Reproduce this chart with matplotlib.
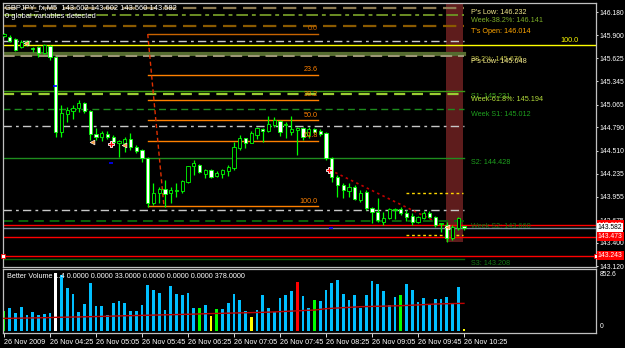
import matplotlib
matplotlib.use('Agg')
import matplotlib.pyplot as plt
import matplotlib.transforms as mtransforms
import numpy as np

plt.rcParams['font.family'] = ['Liberation Sans', 'DejaVu Sans']

# GBPJPY M5, 26 Nov 2009 03:45 .. 10:25 (81 bars)
opens = [145.892, 145.880, 145.856, 145.760, 145.796, 145.748, 145.760, 145.687, 145.772, 145.639,
         144.736, 144.953, 144.989, 145.025, 145.085, 144.989, 144.712, 144.675, 144.712, 144.675,
         144.603, 144.603, 144.651, 144.555, 144.519, 144.422, 143.880, 144.001, 144.049, 144.001,
         144.025, 144.025, 144.133, 144.326, 144.338, 144.230, 144.278, 144.206, 144.230, 144.266,
         144.302, 144.543, 144.663, 144.603, 144.700, 144.772, 144.748, 144.820, 144.868, 144.820,
         144.736, 144.760, 144.784, 144.700, 144.772, 144.748, 144.724, 144.422, 144.194, 144.097,
         144.025, 144.073, 143.916, 144.013, 143.820, 143.772, 143.651, 143.700, 143.796, 143.808,
         143.760, 143.724, 143.651, 143.700, 143.760, 143.712, 143.627, 143.615, 143.459, 143.579,
         143.602]
highs = [145.928, 145.904, 145.868, 145.844, 145.844, 145.760, 145.772, 145.796, 145.784, 145.639,
         145.061, 145.037, 145.061, 145.121, 145.097, 145.001, 144.784, 144.748, 144.748, 144.700,
         144.639, 144.675, 144.724, 144.579, 144.531, 144.435, 144.121, 144.073, 144.157, 144.073,
         144.121, 144.157, 144.326, 144.398, 144.350, 144.290, 144.290, 144.266, 144.290, 144.338,
         144.615, 144.700, 144.663, 144.748, 144.796, 144.784, 144.928, 144.916, 144.880, 144.856,
         144.928, 144.796, 144.796, 144.796, 144.784, 144.772, 144.736, 144.435, 144.218, 144.121,
         144.121, 144.097, 144.037, 144.037, 143.832, 143.941, 143.772, 143.820, 143.820, 143.832,
         143.796, 143.760, 143.724, 143.784, 143.784, 143.724, 143.639, 143.651, 143.615, 143.712,
         143.602]
lows = [145.880, 145.820, 145.712, 145.748, 145.772, 145.700, 145.639, 145.675, 145.603, 144.675,
        144.675, 144.856, 144.892, 144.977, 144.965, 144.639, 144.639, 144.627, 144.651, 144.603,
        144.435, 144.495, 144.519, 144.483, 144.374, 143.832, 143.856, 143.880, 143.832, 143.880,
        143.953, 144.001, 144.121, 144.218, 144.242, 144.181, 144.181, 144.194, 144.181, 144.206,
        144.278, 144.519, 144.543, 144.603, 144.651, 144.615, 144.736, 144.796, 144.688, 144.663,
        144.700, 144.459, 144.639, 144.663, 144.724, 144.688, 144.398, 144.133, 143.953, 143.941,
        143.953, 143.916, 143.892, 143.796, 143.639, 143.651, 143.615, 143.688, 143.688, 143.736,
        143.663, 143.615, 143.639, 143.688, 143.700, 143.591, 143.531, 143.410, 143.434, 143.555,
        143.560]
closes = [145.916, 145.832, 145.724, 145.820, 145.832, 145.736, 145.687, 145.784, 145.639, 144.736,
          144.965, 145.001, 145.025, 145.085, 144.989, 144.712, 144.675, 144.724, 144.675, 144.615,
          144.627, 144.651, 144.555, 144.507, 144.422, 143.880, 144.001, 144.049, 143.989, 144.037,
          144.037, 144.145, 144.326, 144.362, 144.254, 144.278, 144.194, 144.242, 144.278, 144.314,
          144.555, 144.663, 144.603, 144.724, 144.784, 144.748, 144.832, 144.880, 144.736, 144.832,
          144.772, 144.784, 144.675, 144.772, 144.736, 144.712, 144.422, 144.194, 144.097, 144.037,
          144.073, 143.929, 144.001, 143.820, 143.772, 143.675, 143.700, 143.808, 143.808, 143.760,
          143.712, 143.651, 143.712, 143.760, 143.712, 143.615, 143.639, 143.459, 143.591, 143.700,
          143.582]

volumes = [290, 324, 261, 344, 223, 271, 232, 247, 252, 832,
           808, 615, 528, 276, 392, 692, 358, 363, 227, 407,
           431, 402, 290, 286, 373, 663, 590, 542, 300, 648,
           537, 513, 547, 334, 324, 368, 213, 315, 320, 402,
           532, 450, 290, 198, 295, 523, 324, 271, 479, 518,
           576, 706, 503, 329, 440, 431, 590, 687, 736, 537,
           440, 513, 334, 518, 721, 673, 576, 373, 489, 518,
           677, 590, 416, 469, 382, 460, 460, 489, 382, 634,
           20]
vol_kind = ['churn', 'n', 'n', 'n', 'n', 'n', 'n', 'n', 'n', 'climax_dn',
            'n', 'n', 'n', 'n', 'n', 'n', 'n', 'n', 'n', 'n',
            'n', 'n', 'n', 'n', 'n', 'n', 'n', 'n', 'n', 'n',
            'n', 'n', 'n', 'n', 'churn', 'n', 'low', 'churn', 'n', 'n',
            'n', 'n', 'n', 'low', 'n', 'n', 'n', 'n', 'n', 'n',
            'n', 'climax_up', 'n', 'n', 'churn', 'n', 'n', 'n', 'n', 'n',
            'n', 'n', 'n', 'n', 'n', 'n', 'n', 'n', 'n', 'churn',
            'n', 'n', 'n', 'n', 'n', 'n', 'n', 'n', 'n', 'n',
            'low']
vol_avg = [179, 180, 182, 183, 185, 186, 188, 189, 191, 194,
           196, 197, 199, 200, 202, 204, 206, 208, 210, 213,
           215, 217, 219, 221, 223, 225, 227, 229, 231, 233,
           235, 237, 239, 241, 244, 247, 249, 251, 253, 255,
           257, 259, 261, 263, 265, 267, 270, 273, 277, 281,
           285, 289, 293, 297, 300, 310, 320, 325, 330, 335,
           339, 344, 349, 351, 353, 355, 357, 359, 361, 363,
           367, 371, 375, 379, 383, 388, 390, 392, 394, 396,
           397]

time_labels = ['26 Nov 2009', '26 Nov 04:25', '26 Nov 05:05', '26 Nov 05:45', '26 Nov 06:25',
               '26 Nov 07:05', '26 Nov 07:45', '26 Nov 08:25', '26 Nov 09:05', '26 Nov 09:45',
               '26 Nov 10:25']
price_ticks = [146.180, 145.900, 145.625, 145.345, 145.065, 144.790, 144.510,
               144.235, 143.955, 143.675, 143.400, 143.120]

# pivot / level lines ending at the last bar
level_prices = [146.232, 146.141, 146.014, 145.830, 145.676, 145.648, 145.231, 145.194,
                145.012, 144.810, 144.428, 143.800, 143.660, 143.208]
level_names = ["P's Low: 146.232", "Week-38.2%: 146.141", "T's Open: 146.014", "",
               "38.2%: 145.676", "P's Low: 145.648", "S1: 145.231", "Week-61.8%: 145.194",
               "Week S1: 145.012", "", "S2: 144.428", "", "Week S2: 143.660", "S3: 143.208"]
level_colors = ['#8c7a52', '#6b8e23', '#8b5a00', '#c8c8c8', '#556b2f', '#a09878', '#3c9a14',
                '#9acd32', '#1e8c1e', '#c8c8c8', '#1e8c1e', '#c8c8c8', '#0a640a', '#0a640a']
label_colors = ['#f0e68c', '#7cac28', '#ffa500', None, '#b4b440', '#f0e68c', '#3ca01e',
                '#b4dc3c', '#1ea01e', None, '#1ea01e', None, '#147814', '#147814']
level_styles = [(0, (6, 3)), (0, (6, 2, 2, 2)), (0, (6, 3)), (0, (6, 3, 2, 3)), '-', (0, (6, 3)), '-',
                (0, (5, 3)), (0, (5, 3)), (0, (6, 3, 2, 3)), '-', (0, (6, 3, 2, 3)), (0, (5, 3)), '-']
level_widths = [1.6, 1.4, 1.6, 1.0, 3.0, 1.4, 1.0, 1.6, 1.0, 1.0, 1.0, 1.0, 1.4, 1.0]

fib_high = 145.916
fib_low = 143.840
fib_ratios = [0.0, 23.6, 38.2, 50.0, 61.8, 100.0]

x = np.arange(len(opens))
fs = 4.9

fig = plt.figure(figsize=(6.25, 3.48), dpi=100, facecolor='black')
ax = fig.add_axes([3 / 625, 81 / 348, 593 / 625, 264 / 348], facecolor='black')
axv = fig.add_axes([3 / 625, 15 / 348, 593 / 625, 64 / 348], facecolor='black')
xlim = (-0.17, 102.96)
for a in (ax, axv):
    a.set_xlim(*xlim)
    for s in a.spines.values():
        s.set_color('#c0c0c0')
        s.set_linewidth(0.9)
ax.set_ylim(143.109, 146.290)

# highlighted session band
ax.axvspan(76.9, 79.8, ymin=(143.41 - 143.109) / (146.290 - 143.109), ymax=1,
           color='#5e1c1c', zorder=0.5, lw=0)

last = len(opens) - 1
for p, name, c, lc, ls, lw in zip(level_prices, level_names, level_colors, label_colors,
                                  level_styles, level_widths):
    ax.plot([xlim[0], last], [p, p], color=c, ls=ls, lw=lw, zorder=1)
    if name:
        ax.text(last + 1.2, p - 0.02, name, color=lc, fontsize=fs + 0.3, va='top', ha='left', zorder=6)

# full width lines
ax.axhline(145.784, color='#ffff00', lw=1.0, zorder=1)
ax.text(99.9, 145.79, '100.0', color='#ffff00', fontsize=fs + 0.3, ha='right', va='bottom')
ax.axhline(143.615, color='#ff0000', lw=1.0, zorder=1)
ax.axhline(143.582, color='#778899', lw=1.0, zorder=1)
ax.axhline(143.473, color='#ff0000', lw=1.0, zorder=1)
ax.axhline(143.243, color='#ff0000', lw=1.0, zorder=1)
ax.plot([xlim[0] + 0.05, xlim[1] - 0.05], [143.243, 143.243], ls='none', marker='s', ms=2.6,
        mfc='white', mec='#ff0000', mew=0.6, zorder=7, clip_on=False)

# yellow dotted channel
for p in (143.997, 143.491):
    ax.plot([69.9, 79.8], [p, p], color='#ffd700', ls=(0, (2, 2)), lw=1.0, zorder=1)

# fibonacci
fib_range = fib_high - fib_low
for r in fib_ratios:
    p = fib_high - fib_range * r / 100
    col = '#c86400' if r == 0 else '#ff8000'
    ax.plot([25.0, 54.6], [p, p], color=col, lw=1.0, zorder=3)
    ax.text(54.6, p + 0.02, '%.1f' % r, color=col, fontsize=fs + 0.3, ha='right', va='bottom', zorder=6)
ax.plot([25.0, 27.8], [fib_high, 143.856], color='#e03000', ls=(0, (3, 2)), lw=1.0, zorder=4)

# trend line
ax.plot([56.7, 77.0], [144.278, 143.591], color='#c00000', ls=(0, (1.5, 2)), lw=1.2, zorder=4)

# candles
for i in x:
    o, h, l, c = opens[i], highs[i], lows[i], closes[i]
    ax.vlines(i, l, h, color='#00ff00', lw=0.9, zorder=4)
    lo = min(o, c)
    hgt = max(abs(c - o), 0.006)
    face = 'white' if c < o else 'black'
    ax.bar(i, hgt, bottom=lo, width=0.6, color=face, edgecolor='#00ff00', linewidth=0.6, zorder=5)

# signal marks
ax.plot([3.8, 15.3, 20.9, 77.0], [145.808, 144.615, 144.579, 143.591], ls='none', marker='<',
        ms=3.5, mfc='#ffa040', mec='white', mew=0.4, zorder=7)
ax.plot([18.6, 56.5], [144.591, 144.278], ls='none', marker='P', ms=4, mfc='#ff0000',
        mec='white', mew=0.6, zorder=7)
ax.plot([8.9, 18.6, 56.9], [145.29, 144.362, 143.579], ls='none', marker='_', ms=3,
        color='#0000ff', mew=1.2, zorder=7)

# price axis
ax.set_xticks([])
ax.yaxis.tick_right()
ax.set_yticks(price_ticks)
ax.set_yticklabels(['%.3f' % t for t in price_ticks])
ax.tick_params(axis='y', colors='white', labelsize=fs, length=1.5, width=0.6, pad=1)

# price boxes on the right
bt = mtransforms.blended_transform_factory(ax.transAxes, ax.transData)
for p, fc, tc in [(143.615, '#ff0000', 'white'), (143.582, 'white', 'black'),
                  (143.473, '#ff0000', 'white'), (143.243, '#ff0000', 'white')]:
    ax.text(1.003, p, '%.3f' % p, transform=bt, fontsize=fs, color=tc, va='center', ha='left',
            bbox=dict(boxstyle='square,pad=0.15', fc=fc, ec='none'), clip_on=False, zorder=10)

ax.text(0.004, 0.995, 'GBPJPY_fx,M5  143.602 143.602 143.560 143.582', transform=ax.transAxes,
        color='white', fontsize=5.4, va='top', ha='left')
ax.text(0.004, 0.962, '0 global variables detected', transform=ax.transAxes,
        color='white', fontsize=5.4, va='top', ha='left')

# volume panel
kind_colors = {'n': '#00bfff', 'churn': '#00ff00', 'low': '#ffff00',
               'climax_up': '#ff0000', 'climax_dn': '#ffffff'}
axv.bar(x, volumes, width=0.45, color=[kind_colors[k] for k in vol_kind], zorder=2)
axv.plot(x, vol_avg, color='#c00000', lw=1.0, zorder=3)
axv.set_ylim(-33, 896)
axv.set_yticks([])
axv.text(1.006, 0.97, '852.6', transform=axv.transAxes, color='white', fontsize=fs,
         va='top', ha='left', clip_on=False)
axv.text(1.006, 0.04, '0', transform=axv.transAxes, color='white', fontsize=fs,
         va='bottom', ha='left', clip_on=False)
axv.set_xticks(np.arange(0, 81, 8))
axv.set_xticklabels(time_labels)
axv.tick_params(axis='x', colors='white', labelsize=fs + 0.3, length=3, width=0.6, pad=1)
for t in axv.get_xticklabels():
    t.set_ha('left')
axv.text(0.006, 0.93, 'Better Volume 1.4 0.0000 0.0000 33.0000 0.0000 0.0000 0.0000 378.0000',
         transform=axv.transAxes, color='white', fontsize=fs + 0.3, va='top', ha='left', zorder=5)

fig.savefig('out.png', dpi=100, facecolor='black')
